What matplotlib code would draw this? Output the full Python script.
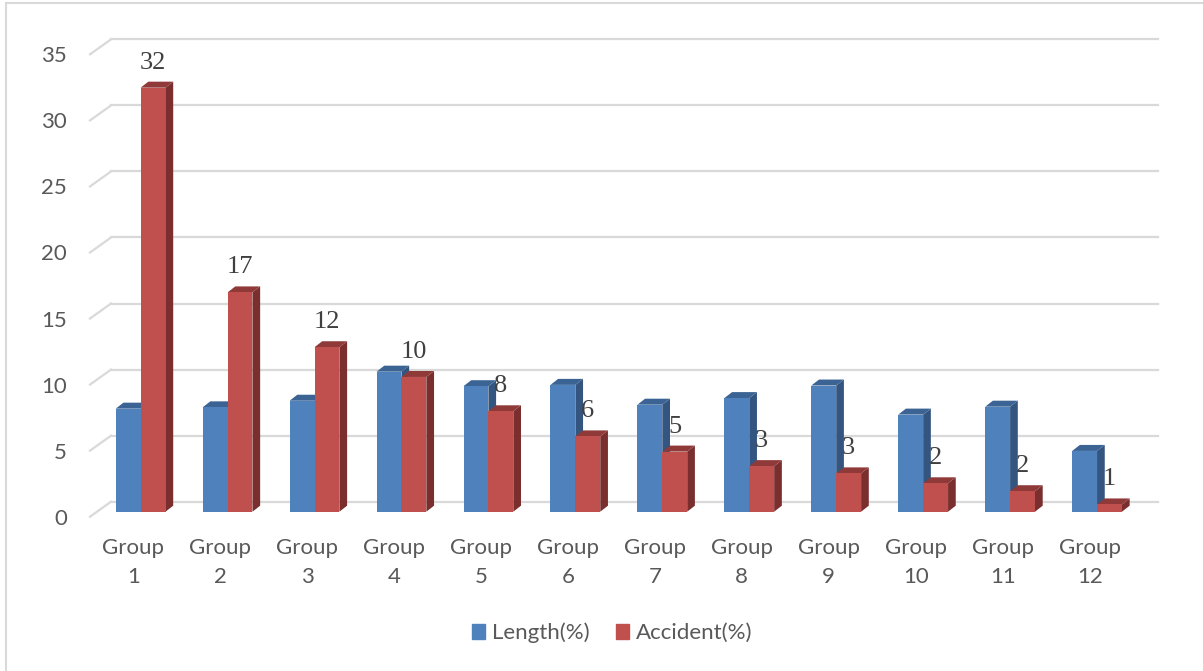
import matplotlib
matplotlib.use('Agg')
import matplotlib.pyplot as plt
import numpy as np
from matplotlib.patches import Polygon, Patch
from matplotlib.lines import Line2D

plt.rcParams['font.family'] = ['Lato', 'DejaVu Sans']

# data
groups = ['Group\n%d' % (i + 1) for i in range(12)]
length_pct = [7.8, 7.9, 8.4, 10.6, 9.5, 9.6, 8.1, 8.6, 9.55, 7.35, 7.95, 4.6]
accident_pct = [32.1, 16.6, 12.45, 10.2, 7.6, 5.7, 4.55, 3.45, 2.9, 2.15, 1.55, 0.55]
yticks = [0, 5, 10, 15, 20, 25, 30, 35]

blue = ['#4F81BD', '#3B6494', '#34557F']   # front, top, side
red = ['#C0504D', '#8F3A38', '#7A2F2E']
grid_c = '#D9D9D9'
text_c = '#595959'
fs = 16

# pixel scale of the plot (px per group, px per unit)
PX_X = 86.95
PX_Y = 13.21

W, H = 1203, 671
fig = plt.figure(figsize=(W / 100, H / 100), dpi=100)
ax = fig.add_axes([90 / W, 159.3 / H, 1068 / W, 35 * PX_Y / H])
xmin, xmax = (90 - 140.6) / PX_X, (1158 - 140.6) / PX_X
ax.set_xlim(xmin, xmax)
ax.set_ylim(0, 35)
ax.axis('off')

# back wall grid + floor diagonals
gx0 = (111 - 140.6) / PX_X
back = 10 / PX_Y
front = -5 / PX_Y
for v in yticks:
    ax.plot([gx0, xmax], [v + back, v + back], color=grid_c, lw=1.6, clip_on=False, zorder=0)
    ax.plot([xmin, gx0], [v + front, v + back], color=grid_c, lw=1.6, clip_on=False, zorder=0)
    ax.text(xmin - 23 / PX_X, v - 7 / PX_Y, str(v), ha='right', va='center',
            fontsize=fs, color=text_c)

# 3d-looking bars
x = np.arange(len(groups))
w = 24.9 / PX_X
ddx = 7.7 / PX_X
ddy = 6 / PX_Y


def box(left, h, cols, z):
    r = left + w
    side = Polygon([(r, 0), (r + ddx, ddy), (r + ddx, h + ddy), (r, h)],
                   closed=True, facecolor=cols[2], edgecolor='none', zorder=z)
    top = Polygon([(left, h), (r, h), (r + ddx, h + ddy), (left + ddx, h + ddy)],
                  closed=True, facecolor=cols[1], edgecolor='none', zorder=z)
    ax.add_patch(side)
    ax.add_patch(top)


for i in range(len(groups)):
    box(x[i] - w, length_pct[i], blue, 2)
    box(x[i], accident_pct[i], red, 4)

ax.bar(x - w / 2, length_pct, w, color=blue[0], zorder=3)
ax.bar(x + w / 2, accident_pct, w, color=red[0], zorder=5)

# value labels on accident bars
for i, v in enumerate(accident_pct):
    ax.annotate('%.0f' % v, (x[i] + w / 2, v), xytext=(0, 25 * 0.72),
                textcoords='offset points', ha='center', va='center',
                fontfamily='Liberation Serif', fontsize=19, color='#404040', zorder=10)

# category labels
for i, g in enumerate(groups):
    ax.text(x[i] - 7.4 / PX_X, -51 / PX_Y, g, ha='center', va='center',
            fontsize=fs, color=text_c, linespacing=1.55)

handles = [Patch(color=blue[0], label='Length(%)'), Patch(color=red[0], label='Accident(%)')]
fig.legend(handles=handles, loc='center', bbox_to_anchor=(612 / W, 38 / H), ncol=2,
           frameon=False, fontsize=fs, labelcolor=text_c, handlelength=0.6,
           handleheight=0.6, handletextpad=0.3, columnspacing=1.2)

# chart border
fig.add_artist(Line2D([6 / W, 6 / W], [0, 1 - 2.5 / H], color=grid_c, lw=1.5))
fig.add_artist(Line2D([6 / W, 1], [1 - 2.5 / H, 1 - 2.5 / H], color=grid_c, lw=1.5))

fig.savefig('out.png', dpi=100)
